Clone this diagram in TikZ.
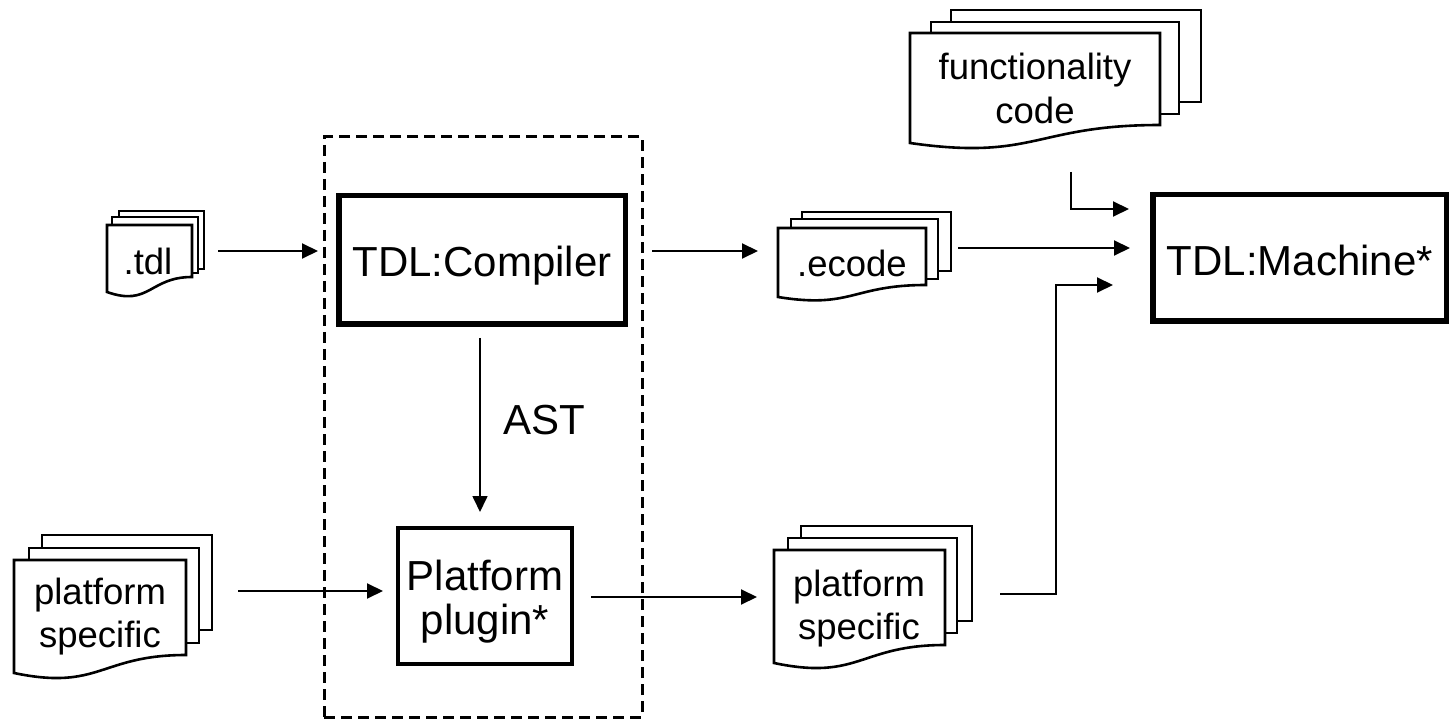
\documentclass[tikz,border=0pt]{standalone}
\usepackage{fontspec}
\setmainfont{Liberation Sans}
\usetikzlibrary{arrows.meta}
\tikzset{
  arr/.style={line width=2pt, -{Triangle[length=16pt,width=15pt]}},
  docline/.style={line width=2.6pt, fill=white, line join=miter},
  bigtxt/.style={font=\fontsize{42}{44}\selectfont, inner sep=0pt},
  doctxt/.style={font=\fontsize{36.5}{43}\selectfont, inner sep=0pt},
  thickbox/.style={draw, line width=5.5pt, inner sep=0pt},
  medbox/.style={draw, line width=4pt, inner sep=0pt},
  framebox/.style={draw, line width=3pt, dash pattern=on 11pt off 6pt, inner sep=0pt},
}
\newcommand\backsheet[4]{\filldraw[docline] (#1,#2) rectangle (#3,#4);}
% L T R BL BR
\newcommand\wavesheet[5]{\filldraw[docline] (#1,#4) -- (#1,#2) -- (#3,#2) -- (#3,#5)
   .. controls ({(#1+#3)/2},#5) and ({(#1+#3)/2},{#4+#4-#5}) .. (#1,#4) -- cycle;}
\begin{document}
\begin{tikzpicture}[x=1pt,y=-1pt]
\useasboundingbox (0,0) rectangle (1452,719);

% dashed frame
\node[framebox, minimum width=318, minimum height=580] (frame) at (483,427) {};

% boxes
\node[thickbox, minimum width=286.5, minimum height=128.5] (compiler) at (482,260) {};
\node[bigtxt, anchor=base] (compilertxt) at (482,277) {TDL:Compiler};

\node[medbox, minimum width=174, minimum height=136] (plugin) at (485,596) {};
\node[bigtxt, anchor=base] (plugintxt1) at (485,590) {Platform};
\node[bigtxt, anchor=base] (plugintxt2) at (485,634) {plugin*};

\node[thickbox, minimum width=293.5, minimum height=126.5] (machine) at (1299.5,258) {};
\node[bigtxt, anchor=base] (machinetxt) at (1300,276) {TDL:Machine*};

\node[bigtxt, anchor=base west] (ast) at (503,435) {AST};

% .tdl document stack
\backsheet{119}{211}{204}{269}
\backsheet{112}{217}{198}{273}
\wavesheet{107}{225}{192}{292}{277}
\node[doctxt, anchor=base] (tdl) at (148,275) {.tdl};

% .ecode document stack
\backsheet{802}{212}{951}{271}
\backsheet{791}{219}{938}{279}
\wavesheet{778}{228}{926}{297}{285}
\node[doctxt, anchor=base] (ecode) at (852,277) {.ecode};

% functionality code stack
\backsheet{951}{10}{1201}{102}
\backsheet{931}{22}{1179}{114}
\wavesheet{910}{33}{1160}{143}{125}
\node[doctxt, anchor=base] (func1) at (1035,80) {functionality};
\node[doctxt, anchor=base] (func2) at (1035,124) {code};

% left platform specific stack
\backsheet{42}{535}{212}{630}
\backsheet{29}{548}{199}{643}
\wavesheet{14}{560}{186}{673}{655}
\node[doctxt, anchor=base] (lps1) at (100,604) {platform};
\node[doctxt, anchor=base] (lps2) at (100,647) {specific};

% right platform specific stack
\backsheet{801}{526}{972}{621}
\backsheet{788}{538}{957}{633}
\wavesheet{774}{550}{945}{663}{645}
\node[doctxt, anchor=base] (rps1) at (859,596) {platform};
\node[doctxt, anchor=base] (rps2) at (859,639) {specific};

% connector end points
\coordinate (c1a) at (218,251); \coordinate (c1b) at (318,251);
\coordinate (c2a) at (652,251); \coordinate (c2b) at (758,251);
\coordinate (c3a) at (958,248); \coordinate (c3b) at (1130,248);
\coordinate (f1) at (1071,172); \coordinate (f2) at (1071,209); \coordinate (f3) at (1129,209);
\coordinate (p1) at (1000,594); \coordinate (p2) at (1056,594); \coordinate (p3) at (1056,285); \coordinate (p4) at (1113,285);
\coordinate (l1) at (238,591); \coordinate (l2) at (383,591);
\coordinate (r1) at (591,597); \coordinate (r2) at (757,597);
\coordinate (s1) at (480,338); \coordinate (s2) at (480,512);

\draw[arr] (c1a) -- (c1b);
\draw[arr] (c2a) -- (c2b);
\draw[arr] (c3a) -- (c3b);
\draw[arr] (f1) -- (f2) -- (f3);
\draw[arr] (p1) -- (p2) -- (p3) -- (p4);
\draw[arr] (l1) -- (l2);
\draw[arr] (r1) -- (r2);
\draw[arr, line width=1.7pt] (s1) -- (s2);
\end{tikzpicture}
\end{document}
